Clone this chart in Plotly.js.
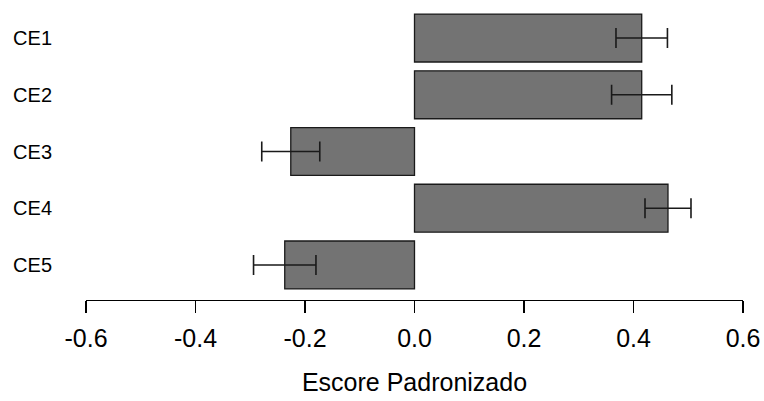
<!DOCTYPE html>
<html>
<head>
<meta charset="utf-8">
<script src="https://cdn.plot.ly/plotly-3.0.1.min.js"></script>
<style>html,body{margin:0;padding:0;background:#fff;}#chart{width:764px;height:401px;}</style>
</head>
<body>
<div id="chart"></div>
<script>
const categories = ["CE1", "CE2", "CE3", "CE4", "CE5"];
const scores = [0.415, 0.415, -0.226, 0.463, -0.237];
const errors = [0.047, 0.055, 0.053, 0.042, 0.057];
const xTicks = [-0.6, -0.4, -0.2, 0.0, 0.2, 0.4, 0.6];
const xTickLabels = ["-0.6", "-0.4", "-0.2", "0.0", "0.2", "0.4", "0.6"];

const trace = {
  type: "bar",
  orientation: "h",
  y: categories,
  x: scores,
  marker: { color: "#737373", line: { color: "#1a1a1a", width: 1.3 } },
  error_x: { type: "data", array: errors, visible: true, color: "#1a1a1a", thickness: 1.6, width: 10 },
  hoverinfo: "x+y"
};

const layout = {
  width: 764, height: 401,
  margin: { l: 86, r: 21, t: 3, b: 101 },
  paper_bgcolor: "#fff", plot_bgcolor: "#fff",
  font: { family: "Liberation Sans, Arial, sans-serif", color: "#000" },
  showlegend: false,
  bargap: 0.155,
  xaxis: {
    range: [-0.6, 0.6],
    tickvals: xTicks, ticktext: xTickLabels,
    showgrid: false, zeroline: false,
    showline: true, linecolor: "#000", linewidth: 1.3,
    ticks: "outside", ticklen: 12, tickwidth: 1.3, tickcolor: "#000",
    ticklabelstandoff: 4,
    tickfont: { size: 25, color: "#000" },
    title: { text: "Escore Padronizado", font: { size: 25, color: "#000" }, standoff: 22 }
  },
  yaxis: {
    type: "category",
    categoryorder: "array", categoryarray: categories,
    range: [4.617, -0.617],
    showgrid: false, zeroline: false, showline: false,
    ticks: "", ticklabelstandoff: 33,
    tickfont: { size: 20, color: "#000" }
  }
};

Plotly.newPlot("chart", [trace], layout, { displayModeBar: false, staticPlot: true });
</script>
</body>
</html>
